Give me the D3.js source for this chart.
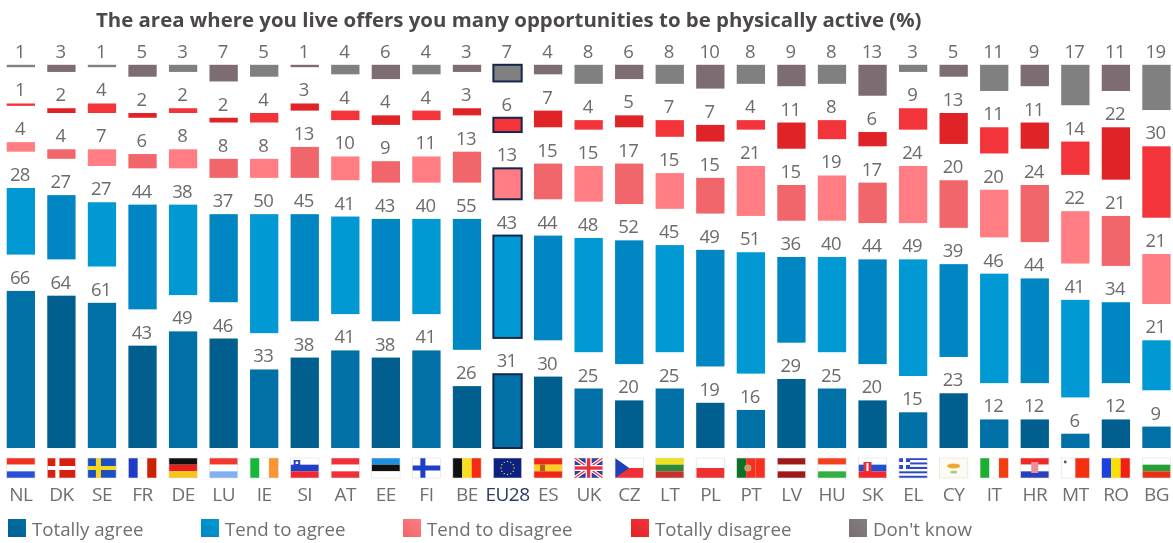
<!DOCTYPE html>
<html>
<head>
<meta charset="utf-8">
<script src="https://cdn.jsdelivr.net/npm/d3@7/dist/d3.min.js"></script>
<style>
   html, body { margin: 0; padding: 0; background: #fff; overflow: hidden; }
   svg { display: block; filter: blur(0.5px); }
   text { font-family: "Open Sans", "Noto Sans", sans-serif; }
</style>
</head>
<body>
<div id="chart"></div>
<script>
const aCountry = ["NL","DK","SE","FR","DE","LU","IE","SI","AT","EE","FI","BE","EU28","ES","UK","CZ","LT","PL","PT","LV","HU","SK","EL","CY","IT","HR","MT","RO","BG"];
const aTotallyAgree    = [66,64,61,43,49,46,33,38,41,38,41,26,31,30,25,20,25,19,16,29,25,20,15,23,12,12,6,12,9];
const aTendAgree       = [28,27,27,44,38,37,50,45,41,43,40,55,43,44,48,52,45,49,51,36,40,44,49,39,46,44,41,34,21];
const aTendDisagree    = [4,4,7,6,8,8,8,13,10,9,11,13,13,15,15,17,15,15,21,15,19,17,24,20,20,24,22,21,21];
const aTotallyDisagree = [1,2,4,2,2,2,4,3,4,4,4,3,6,7,4,5,7,7,4,11,8,6,9,13,11,11,14,22,30];
const aDontKnow        = [1,3,1,5,3,7,5,1,4,6,4,3,7,4,8,6,8,10,8,9,8,13,3,5,11,9,17,11,19];
const aSeriesName = ["Totally agree","Tend to agree","Tend to disagree","Totally disagree","Don't know"];
const aSeriesValue = [aTotallyAgree, aTendAgree, aTendDisagree, aTotallyDisagree, aDontKnow];
const aSeriesShade = [["#0070a7","#005f8f"],["#0099d4","#0087c3"],["#ff7d83","#f0666b"],["#f4343b","#e02327"],["#808080","#7e6c73"]];
const sTitle = "The area where you live offers you many opportunities to be physically active (%)";

const iWidth = 1173, iHeight = 543;
const iBase = 448;      // bottom of the columns
const iUnit = 2.38;     // px for one percent
const iGap = 36.3;      // white space between two segments, holds the label
const sNavy = "#14264e";

const d3Svg = d3.select("#chart").append("svg").attr("width", iWidth).attr("height", iHeight);

const d3XScale = d3.scaleBand().domain(aCountry).range([6.7, 1170.6]).paddingInner(0.302);
const d3YScale = d3.scaleLinear().domain([0, 100]).range([iBase, iBase - 100 * iUnit]);

const aRow = aCountry.map((s, i) => {
   const o = { country: s, index: i };
   aSeriesName.forEach((sName, k) => { o[sName] = aSeriesValue[k][i]; });
   return o;
});
const aStack = d3.stack().keys(aSeriesName)(aRow);

d3Svg.append("text").attr("x", 96).attr("y", 27)
   .attr("font-size", "20.4px").attr("font-weight", 700).attr("fill", "#4b474b")
   .text(sTitle);

// bars and value labels, each segment is moved up by its gap
aStack.forEach((aLayer, k) => {
   const g = d3Svg.append("g");
   g.selectAll("rect").data(aLayer).enter().append("rect")
      .attr("x", d => d3XScale(d.data.country))
      .attr("width", d3XScale.bandwidth())
      .attr("y", d => d3YScale(d[1]) - k * iGap)
      .attr("height", d => d3YScale(d[0]) - d3YScale(d[1]))
      .attr("fill", d => aSeriesShade[k][d.data.index % 2])
      .attr("stroke", d => d.data.country === "EU28" ? sNavy : "none")
      .attr("stroke-width", 2);
   g.selectAll("text").data(aLayer).enter().append("text")
      .attr("x", d => d3XScale(d.data.country) + d3XScale.bandwidth() / 2 - 1)
      .attr("y", d => d3YScale(d[1]) - k * iGap - 7)
      .attr("text-anchor", "middle")
      .attr("font-size", "18.5px")
      .attr("letter-spacing", "-0.7px")
      .attr("fill", "#6f6a6c")
      .text(d => d[1] - d[0]);
});

// flags, drawn in a 28x20 box
const oStripe = {
   NL: ["h","#f23120","#fff","#2b50d8"], FR: ["v","#1c3cc8","#fff","#cc2200"], DE: ["h","#111","#e8201a","#f5c518"],
   LU: ["h","#f2382c","#fff","#7fb0f5"], IE: ["v","#16b83a","#fff","#fb9433"], AT: ["h","#f03038","#fff","#f03038"],
   EE: ["h","#1d8fe0","#111","#fff"], BE: ["v","#111","#f8e020","#f52a10"], LT: ["h","#f0e020","#2c8a3c","#c8302c"],
   PL: ["h","#fff","#f03030"], LV: ["h","#a01818","#fff","#a01818"], HU: ["h","#f5401e","#fff","#30b040"],
   IT: ["v","#18b030","#fff","#f53c10"], RO: ["v","#1c40e0","#f8e000","#f02010"], BG: ["h","#fff","#28a038","#e83018"],
   CZ: ["h","#fff","#f03038"], SI: ["h","#fff","#2040c8","#f02830"], SK: ["h","#fff","#2050d8","#f02830"],
   HR: ["h","#f02828","#fff","#2840c0"], ES: ["h","#f02818","#f8d020","#f02818"], DK: ["h","#d82010"], SE: ["h","#1c50c0"],
   FI: ["h","#fff"], EU28: ["h","#0c2080"], UK: ["h","#2a3fa0"], PT: ["v","#0c7028","#f53020","#f53020"],
   EL: ["h","#2a48c8","#fff","#2a48c8","#fff","#2a48c8","#fff","#2a48c8","#fff","#2a48c8"], CY: ["h","#fbfbf3"], MT: ["v","#fff","#f53010"]
};

function addRect(g, x, y, w, h, sColor) {
   return g.append("rect").attr("x", x).attr("y", y).attr("width", w).attr("height", h).attr("fill", sColor);
}
const oFlagDetail = {
   DK: g => { addRect(g, 8, 0, 4, 20, "#fff"); addRect(g, 0, 8, 28, 4, "#fff"); },
   SE: g => { addRect(g, 8, 0, 5, 20, "#f5d820"); addRect(g, 0, 8, 28, 4, "#f5d820"); },
   FI: g => { addRect(g, 8, 0, 5, 20, "#1c40c8"); addRect(g, 0, 7.5, 28, 5, "#1c40c8"); },
   UK: g => {
      [[0, 0, 28, 20], [0, 20, 28, 0]].forEach(a => g.append("line").attr("x1", a[0]).attr("y1", a[1]).attr("x2", a[2]).attr("y2", a[3]).attr("stroke", "#fff").attr("stroke-width", 3.5));
      [[0, 0, 28, 20], [0, 20, 28, 0]].forEach(a => g.append("line").attr("x1", a[0]).attr("y1", a[1]).attr("x2", a[2]).attr("y2", a[3]).attr("stroke", "#e83040").attr("stroke-width", 1.3));
      addRect(g, 11, 0, 6, 20, "#fff"); addRect(g, 0, 7, 28, 6, "#fff");
      addRect(g, 12.3, 0, 3.4, 20, "#e83040"); addRect(g, 0, 8.3, 28, 3.4, "#e83040");
   },
   EU28: g => {
      d3.range(12).forEach(i => g.append("circle").attr("r", 0.7).attr("fill", "#e8d840")
         .attr("cx", 14 + 6.5 * Math.cos(i * Math.PI / 6)).attr("cy", 10 + 6.5 * Math.sin(i * Math.PI / 6)));
   },
   ES: g => { addRect(g, 6, 6.5, 5, 7, "#b85a20"); },
   CZ: g => { g.append("path").attr("d", "M0,0L14,10L0,20Z").attr("fill", "#2040b8"); },
   PT: g => { g.append("circle").attr("cx", 11).attr("cy", 10).attr("r", 3.5).attr("fill", "#c8a070"); },
   EL: g => { addRect(g, 0, 0, 11, 11, "#2a48c8"); addRect(g, 4, 0, 3, 11, "#fff"); addRect(g, 0, 4, 11, 3, "#fff"); },
   CY: g => { g.append("ellipse").attr("cx", 14).attr("cy", 8).attr("rx", 6.5).attr("ry", 2.6).attr("fill", "#f0a830"); g.append("ellipse").attr("cx", 14).attr("cy", 14).attr("rx", 3.5).attr("ry", 1.6).attr("fill", "#a8c888"); },
   MT: g => { g.append("circle").attr("cx", 4).attr("cy", 4).attr("r", 1.4).attr("fill", "#555"); },
   SI: g => { addRect(g, 3, 2, 6.5, 8, "#2040c8"); addRect(g, 5, 3.5, 2.5, 2.5, "#fff"); },
   SK: g => { addRect(g, 5, 4, 8, 10, "#e83038"); addRect(g, 8, 5, 2, 8, "#fff"); },
   HR: g => { addRect(g, 10.5, 4, 7, 11, "#e89098"); }
};
const gFlag = d3Svg.selectAll("g.flag").data(aCountry).enter().append("g").attr("class", "flag")
   .attr("transform", s => `translate(${d3XScale(s)},458) scale(${d3XScale.bandwidth() / 28},1)`);
gFlag.each(function (s) {
   const g = d3.select(this);
   const aColor = oStripe[s].slice(1);
   const bVertical = oStripe[s][0] === "v";
   const iStep = (bVertical ? 28 : 20) / aColor.length;
   aColor.forEach((sColor, i) => {
      if (bVertical) addRect(g, i * iStep, 0, iStep, 20, sColor);
      else addRect(g, 0, i * iStep, 28, iStep, sColor);
   });
   if (oFlagDetail[s]) oFlagDetail[s](g);
   g.append("rect").attr("width", 28).attr("height", 20).attr("fill", "none").attr("stroke", "#e4dcdc").attr("stroke-width", 0.6);
});

// country codes under the flags
d3Svg.selectAll("text.country").data(aCountry).enter().append("text").attr("class", "country")
   .attr("x", s => d3XScale(s) + d3XScale.bandwidth() / 2)
   .attr("y", 501)
   .attr("text-anchor", "middle")
   .attr("font-size", "19px")
   .attr("letter-spacing", "-0.5px")
   .attr("fill", s => s === "EU28" ? "#2c3c60" : "#6f6f6f")
   .text(s => s);

// legend
const aLegendX = [8, 201, 403, 631, 849];
const d3Defs = d3Svg.append("defs");
aSeriesName.forEach((sName, k) => {
   const d3Grad = d3Defs.append("linearGradient").attr("id", "legend" + k)
      .attr("x1", "100%").attr("y1", "0%").attr("x2", "0%").attr("y2", "100%");
   d3Grad.append("stop").attr("offset", "0%").attr("stop-color", aSeriesShade[k][0]);
   d3Grad.append("stop").attr("offset", "100%").attr("stop-color", aSeriesShade[k][1]);
   d3Svg.append("rect").attr("x", aLegendX[k]).attr("y", 519).attr("width", 18).attr("height", 18).attr("fill", `url(#legend${k})`);
   d3Svg.append("text").attr("x", aLegendX[k] + 24).attr("y", 536)
      .attr("font-size", "18.7px").attr("fill", "#6f6f6f").text(sName);
});
</script>
</body>
</html>
